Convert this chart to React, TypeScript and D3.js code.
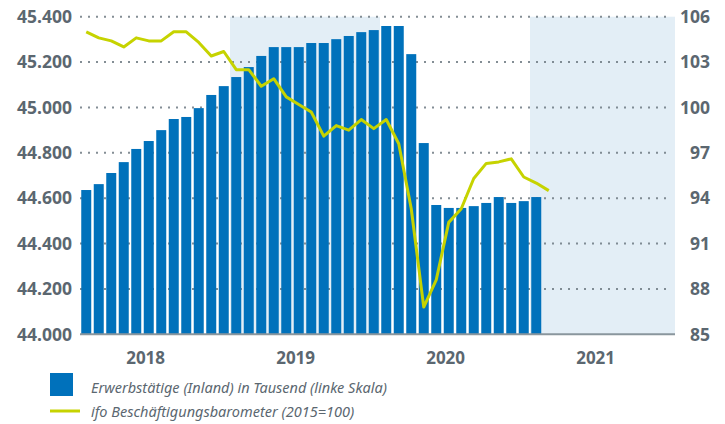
import React from "react";
import * as d3 from "d3";

// Months (Jan 2018 .. Feb 2021)
const months = [
  "2018-01","2018-02","2018-03","2018-04","2018-05","2018-06","2018-07","2018-08","2018-09","2018-10","2018-11","2018-12",
  "2019-01","2019-02","2019-03","2019-04","2019-05","2019-06","2019-07","2019-08","2019-09","2019-10","2019-11","2019-12",
  "2020-01","2020-02","2020-03","2020-04","2020-05","2020-06","2020-07","2020-08","2020-09","2020-10","2020-11","2020-12",
  "2021-01","2021-02",
];

// Erwerbstätige (Inland) in Tausend, Jan 2018 .. Jan 2021
const employed = [
  44636, 44662, 44711, 44759, 44817, 44852, 44900, 44949, 44958, 44997, 45055, 45094,
  45134, 45178, 45227, 45266, 45266, 45266, 45284, 45284, 45301, 45315, 45332, 45341,
  45359, 45359, 45235, 44843, 44570, 44557, 44557, 44565, 44579, 44605, 44579, 44587,
  44605,
];

// ifo Beschäftigungsbarometer (2015=100), Jan 2018 .. Feb 2021
const ifo = [
  105.0, 104.6, 104.4, 104.0, 104.6, 104.4, 104.4, 105.0, 105.0, 104.3, 103.4, 103.7,
  102.5, 102.5, 101.4, 101.9, 100.7, 100.2, 99.7, 98.1, 98.8, 98.5, 99.2, 98.6,
  99.2, 97.6, 93.3, 86.8, 88.6, 92.4, 93.3, 95.3, 96.3, 96.4, 96.6, 95.4,
  95.0, 94.5,
];

const years = ["2018", "2019", "2020", "2021"];
const shadedYears = ["2019", "2021"];
const leftTicks = [44000, 44200, 44400, 44600, 44800, 45000, 45200, 45400];
const rightTicks = [85, 88, 91, 94, 97, 100, 103, 106];

const labels = {
  bars: "Erwerbstätige (Inland) in Tausend (linke Skala)",
  line: "ifo Beschäftigungsbarometer (2015=100)",
};

const W = 725;
const H = 424;
const BLUE = "#0071bb";
const LIME = "#c6d300";
const SHADE = "#e3eef6";
const TEXT = "#5b6770";
const GRID = "#6f7b83";
const FONT = "'Noto Sans', 'Open Sans', sans-serif";

const locale = d3.formatLocale({ decimal: ",", thousands: ".", grouping: [3], currency: ["", "€"] });
const fmt = locale.format(",.0f");

export default function App() {
  const left = 80;
  const right = 675;
  const top = 16.7;
  const bottom = 334.3;
  const firstYear = +years[0];

  const x = d3.scaleLinear().domain([0, 47.6]).range([left, right]);
  const yL = d3.scaleLinear().domain([44000, 45400]).range([bottom, top]);
  const yR = d3.scaleLinear().domain([85, 106]).range([bottom, top]);

  const monthIndex = (m: string) => {
    const [yy, mm] = m.split("-").map(Number);
    return (yy - firstYear) * 12 + (mm - 1);
  };

  const barW = 10;
  const line = d3
    .line<number>()
    .x((_, i) => x(monthIndex(months[i]) + 0.5))
    .y((d) => yR(d));

  const gridTicks = leftTicks.filter((t) => t > 44000);

  return (
    <svg width={W} height={H} style={{ position: "absolute", left: 0, top: 0, background: "#fff" }}>
      {shadedYears.map((yStr) => {
        const i0 = (+yStr - firstYear) * 12;
        const x0 = x(i0);
        const x1 = Math.min(x(i0 + 12), right);
        return <rect key={yStr} x={x0} y={top} width={x1 - x0} height={bottom - top} fill={SHADE} />;
      })}
      {gridTicks.map((t) => (
        <line
          key={t}
          x1={left}
          x2={668.5}
          y1={yL(t)}
          y2={yL(t)}
          stroke={GRID}
          strokeWidth={2}
          strokeDasharray="2 6"
          opacity={0.85}
        />
      ))}
      {employed.map((v, i) => {
        const cx = x(monthIndex(months[i]) + 0.5);
        return <rect key={i} x={cx - barW / 2} y={yL(v)} width={barW} height={bottom - yL(v)} fill={BLUE} />;
      })}
      <line x1={left} x2={right} y1={bottom} y2={bottom} stroke="#8a969d" strokeWidth={2} />
      <path d={line(ifo) || ""} fill="none" stroke={LIME} strokeWidth={3} strokeLinejoin="round" />
      {leftTicks.map((t) => (
        <text
          key={t}
          x={72}
          y={yL(t)}
          dy="0.36em"
          textAnchor="end"
          fontFamily={FONT}
          fontWeight={700}
          fontSize={17.5}
          fill={TEXT}
        >
          {fmt(t)}
        </text>
      ))}
      {rightTicks.map((t) => (
        <text
          key={t}
          x={710}
          y={yR(t)}
          dy="0.36em"
          textAnchor="end"
          fontFamily={FONT}
          fontWeight={700}
          fontSize={17.5}
          fill={TEXT}
        >
          {t}
        </text>
      ))}
      {years.map((yStr) => {
        const i0 = (+yStr - firstYear) * 12;
        return (
          <text
            key={yStr}
            x={x(i0 + 5.25)}
            y={364}
            textAnchor="middle"
            fontFamily={FONT}
            fontWeight={700}
            fontSize={17}
            fill={TEXT}
          >
            {yStr}
          </text>
        );
      })}
      <rect x={50} y={373} width={23} height={23} fill={BLUE} />
      <text x={91} y={393} fontFamily={FONT} fontStyle="italic" fontSize={14.5} fill={TEXT}>
        {labels.bars}
      </text>
      <line x1={50} x2={80} y1={411} y2={411} stroke={LIME} strokeWidth={3} />
      <text x={91} y={417} fontFamily={FONT} fontStyle="italic" fontSize={14.5} fill={TEXT}>
        {labels.line}
      </text>
    </svg>
  );
}
